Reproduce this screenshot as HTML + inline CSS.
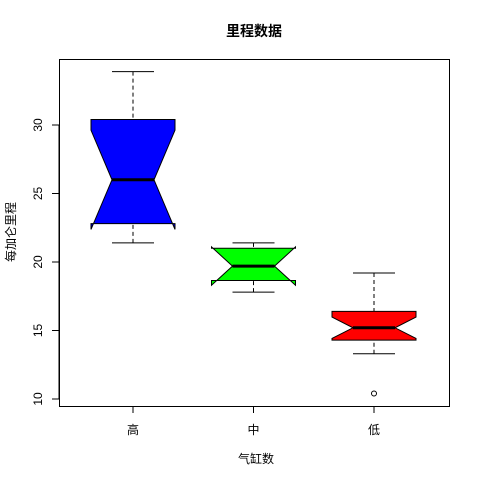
<!DOCTYPE html>
<html><head><meta charset="utf-8"><style>
body{margin:0;background:#fff}
svg text{font-family:"Liberation Sans","Noto Sans CJK SC",sans-serif;font-size:12px}
</style></head><body>
<svg id="chart" width="480" height="480">
<rect x="0" y="0" width="480" height="480" fill="#fff"/>
<text x="254" y="36" text-anchor="middle" font-weight="bold" style="font-size:14px">里程数据</text>
<text x="256" y="463" text-anchor="middle">气缸数</text>
<text transform="translate(15,232) rotate(-90)" text-anchor="middle">每加仑里程</text>
<rect x="59.5" y="59.5" width="390" height="347" fill="none" stroke="#000"/>
<g id="g"></g>
</svg>
<script>
const categories=["高","中","低"];
const colors=["#0000ff","#00ff00","#ff0000"];
const mins=[21.4,17.8,13.3];
const q1s=[22.8,18.65,14.3];
const medians=[26.0,19.7,15.2];
const q3s=[30.4,21.0,16.4];
const maxs=[33.9,21.4,19.2];
const notchLo=[22.38,18.3,14.42];
const notchHi=[29.62,21.1,15.98];
const outliers=[[],[],[10.4]];
const yTicks=[10,15,20,25,30];

const NS="http://www.w3.org/2000/svg";
const g=document.getElementById('g');
function y(v){return 399-(v-10)*13.7;}
function x(i){return 133+i*120.5;}
function mk(t,a,p){const e=document.createElementNS(NS,t);for(const k in a)e.setAttribute(k,a[k]);(p||g).appendChild(e);return e;}
yTicks.forEach(v=>{
  const l=mk('line',{x1:52,x2:59,y1:y(v),y2:y(v),stroke:'#000'});
  
  
  const t=mk('text',{transform:`translate(42,${y(v)}) rotate(-90)`,'text-anchor':'middle'});
  t.textContent=v;
  
  
});
mk('line',{x1:59,x2:59,y1:y(30),y2:y(10),stroke:'#000'});
const w=42,h=21;
categories.forEach((c,i)=>{
  const cx=x(i);
  const tk=mk('line',{x1:cx,x2:cx,y1:406,y2:413,stroke:'#000'});
  
  
  const t=mk('text',{x:cx,y:434,'text-anchor':'middle'});
  t.textContent=c;
  
  
  [[maxs[i],q3s[i]],[mins[i],q1s[i]]].forEach(([a,b])=>{
    const wl=mk('line',{x1:cx,x2:cx,y1:y(a),y2:y(b),stroke:'#000','stroke-dasharray':'4,3'});
    
    
    const cp=mk('line',{x1:cx-h,x2:cx+h,y1:y(a),y2:y(a),stroke:'#000'});
    
    
  });
  const pts=[[cx-w,q3s[i]],[cx+w,q3s[i]],[cx+w,notchHi[i]],[cx+h,medians[i]],[cx+w,notchLo[i]],[cx+w,q1s[i]],[cx-w,q1s[i]],[cx-w,notchLo[i]],[cx-h,medians[i]],[cx-w,notchHi[i]]];
  const b=mk('polygon',{points:pts.map(p=>p[0]+','+y(p[1])).join(' '),fill:colors[i],stroke:'#000'});
  
  
  const m=mk('line',{x1:cx-h,x2:cx+h,y1:y(medians[i]),y2:y(medians[i]),stroke:'#000','stroke-width':3});
  
  
  outliers[i].forEach(o=>{
    const p=mk('circle',{cx:cx,cy:y(o),r:2.5,fill:'none',stroke:'#000'});
    
    
  });
});
</script>
</body></html>
